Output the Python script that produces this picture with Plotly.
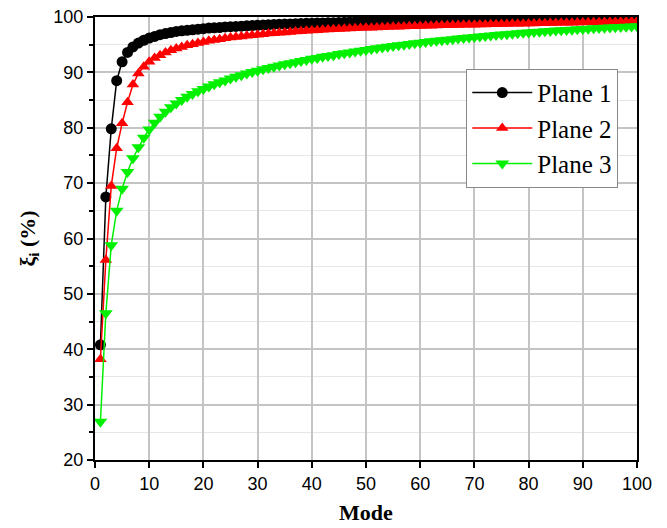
import plotly.graph_objects as go

modes = list(range(1, 101))

plane1 = [40.8, 67.5, 79.8, 88.5, 91.9, 93.6, 94.6, 95.3, 95.8, 96.2,
          96.5, 96.8, 97.0, 97.2, 97.4, 97.5, 97.6, 97.7, 97.8, 97.9,
          98.0, 98.05, 98.1, 98.2, 98.25, 98.3, 98.35, 98.4, 98.45, 98.5,
          98.55, 98.6, 98.65, 98.7, 98.72, 98.75, 98.8, 98.82, 98.85, 98.88,
          98.9, 98.93, 98.95, 98.98, 99.0, 99.02, 99.05, 99.07, 99.1, 99.12,
          99.14, 99.16, 99.18, 99.2, 99.22, 99.24, 99.26, 99.28, 99.3, 99.32,
          99.34, 99.35, 99.37, 99.38, 99.4, 99.41, 99.43, 99.44, 99.46, 99.47,
          99.48, 99.5, 99.51, 99.52, 99.53, 99.54, 99.55, 99.56, 99.57, 99.58,
          99.59, 99.6, 99.61, 99.62, 99.63, 99.64, 99.65, 99.66, 99.67, 99.68,
          99.69, 99.7, 99.71, 99.72, 99.73, 99.74, 99.75, 99.76, 99.77, 99.78]

plane2 = [38.2, 56.1, 69.5, 76.3, 80.8, 84.6, 87.8, 89.8, 91.0, 91.9,
          92.6, 93.1, 93.6, 94.0, 94.3, 94.6, 94.9, 95.1, 95.3, 95.5,
          95.7, 95.85, 96.0, 96.15, 96.3, 96.4, 96.5, 96.6, 96.7, 96.8,
          96.9, 97.0, 97.08, 97.15, 97.22, 97.3, 97.37, 97.44, 97.5, 97.56,
          97.62, 97.68, 97.73, 97.78, 97.83, 97.88, 97.92, 97.96, 98.0, 98.04,
          98.08, 98.12, 98.16, 98.2, 98.23, 98.26, 98.29, 98.32, 98.35, 98.38,
          98.41, 98.44, 98.47, 98.5, 98.52, 98.54, 98.56, 98.58, 98.6, 98.62,
          98.64, 98.66, 98.68, 98.7, 98.72, 98.74, 98.76, 98.78, 98.8, 98.82,
          98.84, 98.86, 98.88, 98.9, 98.92, 98.94, 98.96, 98.98, 99.0, 99.02,
          99.04, 99.06, 99.08, 99.1, 99.12, 99.14, 99.16, 99.18, 99.2, 99.22]

plane3 = [26.9, 46.5, 58.8, 65.0, 69.0, 72.0, 74.5, 76.5, 78.2, 79.7,
          80.9, 82.0, 82.9, 83.7, 84.4, 85.0, 85.6, 86.1, 86.6, 87.0,
          87.45, 87.85, 88.2, 88.55, 88.9, 89.2, 89.5, 89.8, 90.05, 90.3,
          90.55, 90.8, 91.0, 91.25, 91.45, 91.65, 91.85, 92.05, 92.25, 92.45,
          92.6, 92.8, 92.95, 93.1, 93.3, 93.45, 93.6, 93.75, 93.9, 94.05,
          94.2, 94.35, 94.5, 94.62, 94.75, 94.88, 95.0, 95.12, 95.24, 95.36,
          95.48, 95.6, 95.7, 95.8, 95.9, 96.0, 96.1, 96.2, 96.3, 96.4,
          96.5, 96.58, 96.66, 96.74, 96.82, 96.9, 96.98, 97.06, 97.14, 97.2,
          97.27, 97.34, 97.41, 97.48, 97.55, 97.6, 97.66, 97.72, 97.78, 97.84,
          97.9, 97.95, 98.0, 98.05, 98.1, 98.15, 98.2, 98.25, 98.3, 98.35]

series_names = ["Plane 1", "Plane 2", "Plane 3"]
x_ticks = list(range(0, 101, 10))
y_ticks = list(range(20, 101, 10))

fig = go.Figure()
styles = [("#000000", "circle", 11), ("#ff0000", "triangle-up", 11), ("#00f000", "triangle-down", 12)]
for name, vals, (col, sym, sz) in zip(series_names, [plane1, plane2, plane3], styles):
    fig.add_trace(go.Scatter(
        x=modes, y=vals, name=name, mode="lines+markers",
        line=dict(color=col, width=1.5),
        marker=dict(color=col, symbol=sym, size=sz, line=dict(width=0)),
    ))

axis_common = dict(
    showline=True, linecolor="black", linewidth=2, mirror=True,
    ticks="outside", tickcolor="black", tickwidth=2, ticklen=6,
    showgrid=True, gridcolor="#c4c4c4", gridwidth=1.5, zeroline=False,
    automargin=False, ticklabeloverflow="allow",
    tickfont=dict(family="Liberation Sans, Arial", size=18, color="black"),
)

fig.update_layout(
    width=659, height=520,
    margin=dict(l=87, r=30, t=9, b=68),
    paper_bgcolor="white", plot_bgcolor="white",
    showlegend=True,
    legend=dict(
        x=0.685, y=0.883, xanchor="left", yanchor="top",
        bgcolor="white", bordercolor="#888888", borderwidth=1,
        font=dict(family="Liberation Serif, Times New Roman", size=25, color="black"),
        tracegroupgap=0, itemwidth=60,
    ),
    xaxis=dict(
        range=[0, 100], tickvals=x_ticks,
        title=dict(text="<b>Mode</b>", font=dict(family="Liberation Serif, Times New Roman", size=22, color="black"), standoff=12),
        **axis_common,
    ),
    yaxis=dict(
        range=[20, 100], tickvals=y_ticks,
        title=dict(text="<b>ξ<sub>i</sub> (%)</b>", font=dict(family="Liberation Serif, Times New Roman", size=22, color="black"), standoff=12),
        minor=dict(dtick=5, tick0=20, ticks="outside", ticklen=4, tickwidth=1.5, tickcolor="black",
                   showgrid=True, gridcolor="#e6e6e6", gridwidth=1),
        **axis_common,
    ),
)

fig.write_html("out.html")
